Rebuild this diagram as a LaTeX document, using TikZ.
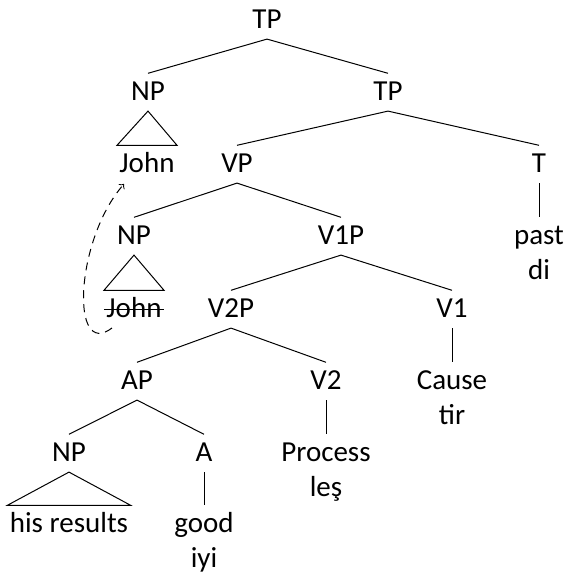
\documentclass[tikz,border=0pt]{standalone}
\usepackage{fontspec}
\setmainfont{Carlito}
\usetikzlibrary{arrows}

\begin{document}
\begin{tikzpicture}[x=0.5pt, y=-0.5pt, line width=0.5pt, >=to,
    every node/.style={font=\fontsize{14.5pt}{17.5pt}\selectfont, anchor=base,
      text height=9.3pt, text depth=1.5pt, inner ysep=3.8pt, inner xsep=1pt},
    move/.style={dashed, dash pattern=on 4pt off 3pt, ->}]
    \useasboundingbox (0,0) rectangle (566,573);

    % 1. labels
    \node (tp) at (267,28) {TP};
    \node (np1) at (148,100) {NP};
    \node (tp2) at (388,100) {TP};
    \node (john1) at (147,172) {John};
    \node (vp) at (237,172) {VP};
    \node (t) at (539,172) {T};
    \node (np2) at (134,244) {NP};
    \node (vonep) at (341,244) {V1P};
    \node (past) at (539,244) {past};
    \node (di) at (539,279) {di};
    \node (john2) at (134,317) {John};
    \node (vtwop) at (231,317) {V2P};
    \node (vone) at (452,317) {V1};
    \node (ap) at (137,389) {AP};
    \node (vtwo) at (326,389) {V2};
    \node (cause) at (452,389) {Cause};
    \node (tir) at (452,424) {tir};
    \node (np3) at (69,461) {NP};
    \node (a) at (204,461) {A};
    \node (process) at (326,461) {Process};
    \node (les) at (326,496) {leş};
    \node (hisres) at (69,532) {his results};
    \node (good) at (204,532) {good};
    \node (iyi) at (204,567) {iyi};

    % 2. branches
    \draw (tp.south) -- (np1.north);
    \draw (tp.south) -- (tp2.north);
    \draw (tp2.south) -- (vp.north);
    \draw (tp2.south) -- (t.north);
    \draw (t.south) -- (past.north);
    \draw (vp.south) -- (np2.north);
    \draw (vp.south) -- (vonep.north);
    \draw (vonep.south) -- (vtwop.north);
    \draw (vonep.south) -- (vone.north);
    \draw (vone.south) -- (cause.north);
    \draw (vtwop.south) -- (ap.north);
    \draw (vtwop.south) -- (vtwo.north);
    \draw (vtwo.south) -- (process.north);
    \draw (ap.south) -- (np3.north);
    \draw (ap.south) -- (a.north);
    \draw (a.south) -- (good.north);

    % 3. triangles
    \draw (np1.south) -- (john1.north west) -- (john1.north east) -- cycle;
    \draw (np2.south) -- (john2.north west) -- (john2.north east) -- cycle;
    \draw (np3.south) -- (hisres.north west) -- (hisres.north east) -- cycle;

    % 4. trace and movement
    \draw ([yshift=4pt]john2.base west) -- ([yshift=4pt]john2.base east);
    \coordinate (trace) at (112,328);
    \coordinate (landing) at (124,184);
    \draw[move] (trace) .. controls (70,360) and (75,240) .. (landing);
\end{tikzpicture}
\end{document}
